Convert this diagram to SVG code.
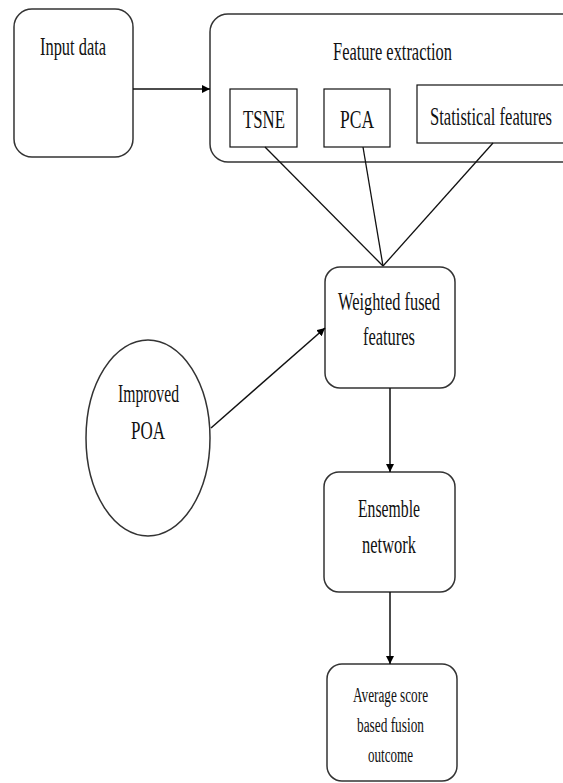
<svg xmlns="http://www.w3.org/2000/svg" width="563" height="783" viewBox="0 0 563 783">
<defs>
<marker id="ah" viewBox="0 0 10 10" refX="10" refY="5" markerWidth="8" markerHeight="8" markerUnits="userSpaceOnUse" orient="auto">
<path d="M0,0 L10,5 L0,10 z" fill="#000"/>
</marker>
<style>
.box{fill:#fff;stroke:#333;stroke-width:1.5}
.sub{fill:#fff;stroke:#111;stroke-width:1.2}
.t{font-family:"Liberation Serif","Times New Roman",serif;font-size:26px;fill:#111}
.s{font-family:"Liberation Serif","Times New Roman",serif;font-size:20px;fill:#111}
.c{stroke:#111;stroke-width:1.3;fill:none}
.a{stroke:#111;stroke-width:1.5;fill:none;marker-end:url(#ah)}
</style>
</defs>
<rect width="563" height="783" fill="#fff"/>
<g id="input">
<rect class="box" x="14" y="9" width="119" height="148" rx="18"/>
<text class="t" x="40" y="55" textLength="66" lengthAdjust="spacingAndGlyphs">Input data</text>
</g>
<g id="feature-extraction">
<rect class="box" x="210" y="14" width="400" height="148" rx="18"/>
<text class="t" x="333" y="60" textLength="119" lengthAdjust="spacingAndGlyphs">Feature extraction</text>
</g>
<g id="tsne">
<rect class="sub" x="230" y="89" width="67" height="58"/>
<text class="t" x="243" y="128" textLength="42" lengthAdjust="spacingAndGlyphs">TSNE</text>
</g>
<g id="pca">
<rect class="sub" x="324" y="89" width="66" height="58"/>
<text class="t" x="340" y="128" textLength="34" lengthAdjust="spacingAndGlyphs">PCA</text>
</g>
<g id="statistical">
<rect class="sub" x="417" y="85" width="170" height="58"/>
<text class="t" x="430" y="125" textLength="122" lengthAdjust="spacingAndGlyphs">Statistical features</text>
</g>
<g id="weighted">
<rect class="box" x="325" y="267" width="130" height="121" rx="15"/>
<text class="t" x="338" y="310" textLength="102" lengthAdjust="spacingAndGlyphs">Weighted fused</text>
<text class="t" x="363" y="345" textLength="52" lengthAdjust="spacingAndGlyphs">features</text>
</g>
<g id="poa">
<ellipse class="box" cx="148" cy="438" rx="62" ry="98"/>
<text class="t" x="118" y="402" textLength="61" lengthAdjust="spacingAndGlyphs">Improved</text>
<text class="t" x="131" y="439" textLength="34" lengthAdjust="spacingAndGlyphs">POA</text>
</g>
<g id="ensemble">
<rect class="box" x="324" y="472" width="131" height="120" rx="15"/>
<text class="t" x="358" y="517" textLength="62" lengthAdjust="spacingAndGlyphs">Ensemble</text>
<text class="t" x="362" y="553" textLength="54" lengthAdjust="spacingAndGlyphs">network</text>
</g>
<g id="average">
<rect class="box" x="327" y="664" width="130" height="117" rx="15"/>
<text class="s" x="353" y="702" textLength="75" lengthAdjust="spacingAndGlyphs">Average score</text>
<text class="s" x="357" y="732" textLength="67" lengthAdjust="spacingAndGlyphs">based fusion</text>
<text class="s" x="368" y="762" textLength="45" lengthAdjust="spacingAndGlyphs">outcome</text>
</g>
<g id="connectors">
<line class="a" x1="133" y1="89" x2="210" y2="89"/>
<line class="c" x1="265" y1="147" x2="383" y2="266"/>
<line class="c" x1="363" y1="147" x2="383" y2="266"/>
<line class="c" x1="493" y1="143" x2="383" y2="266"/>
<line class="a" x1="211" y1="428" x2="325" y2="328"/>
<line class="a" x1="390" y1="388" x2="390" y2="472"/>
<line class="a" x1="390" y1="592" x2="390" y2="664"/>
</g>
</svg>
